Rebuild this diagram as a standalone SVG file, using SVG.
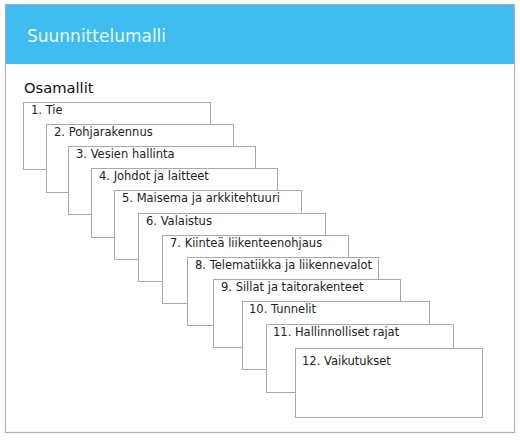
<svg xmlns="http://www.w3.org/2000/svg" width="520" height="441" viewBox="0 0 520 441">
<style>
.frame{fill:#fff;stroke:#b0b0b0;stroke-width:1.2}
.hdr{fill:#3fbdee}
.box{fill:#fff;stroke:#a8a8a8;stroke-width:1}
.t{font-family:"DejaVu Sans",Verdana,sans-serif;font-size:11.5px;fill:#222}
.title{font-family:"DejaVu Sans",Verdana,sans-serif;font-size:17px;fill:#e6f8ff}
.sub{font-family:"DejaVu Sans",Verdana,sans-serif;font-size:14.7px;fill:#111}
</style>
<rect width="520" height="441" fill="#fff"/>
<rect class="frame" x="5.5" y="4.5" width="509" height="428"/>
<rect class="hdr" x="6" y="5" width="508" height="59"/>
<text class="title" x="27" y="41.5">Suunnittelumalli</text>
<text class="sub" x="24" y="92.5">Osamallit</text>
<g id="n1"><rect class="box" x="23.5" y="102.5" width="187" height="67"/><text class="t" x="31" y="114">1. Tie</text></g>
<g id="n2"><rect class="box" x="46.5" y="124.5" width="187" height="68"/><text class="t" x="54" y="136">2. Pohjarakennus</text></g>
<g id="n3"><rect class="box" x="68.5" y="146.5" width="187" height="68"/><text class="t" x="76" y="158">3. Vesien hallinta</text></g>
<g id="n4"><rect class="box" x="91.5" y="168.5" width="186" height="69"/><text class="t" x="99" y="180">4. Johdot ja laitteet</text></g>
<g id="n5"><rect class="box" x="114.5" y="190.5" width="187" height="69"/><text class="t" x="122" y="202">5. Maisema ja arkkitehtuuri</text></g>
<g id="n6"><rect class="box" x="138.5" y="213.5" width="187" height="68"/><text class="t" x="146" y="225">6. Valaistus</text></g>
<g id="n7"><rect class="box" x="162.5" y="235.5" width="186" height="68"/><text class="t" x="170" y="247">7. Kiinteä liikenteenohjaus</text></g>
<g id="n8"><rect class="box" x="187.5" y="257.5" width="191" height="68"/><text class="t" x="195" y="269">8. Telematiikka ja liikennevalot</text></g>
<g id="n9"><rect class="box" x="213.5" y="279.5" width="187" height="68"/><text class="t" x="221" y="291">9. Sillat ja taitorakenteet</text></g>
<g id="n10"><rect class="box" x="242.5" y="301.5" width="187" height="68"/><text class="t" x="249" y="313">10. Tunnelit</text></g>
<g id="n11"><rect class="box" x="266.5" y="324.5" width="187" height="68"/><text class="t" x="273" y="336">11. Hallinnolliset rajat</text></g>
<g id="n12"><rect class="box" x="295.5" y="348.5" width="187" height="69"/><text class="t" x="302" y="365">12. Vaikutukset</text></g>
<g id="connectors"/>
</svg>
